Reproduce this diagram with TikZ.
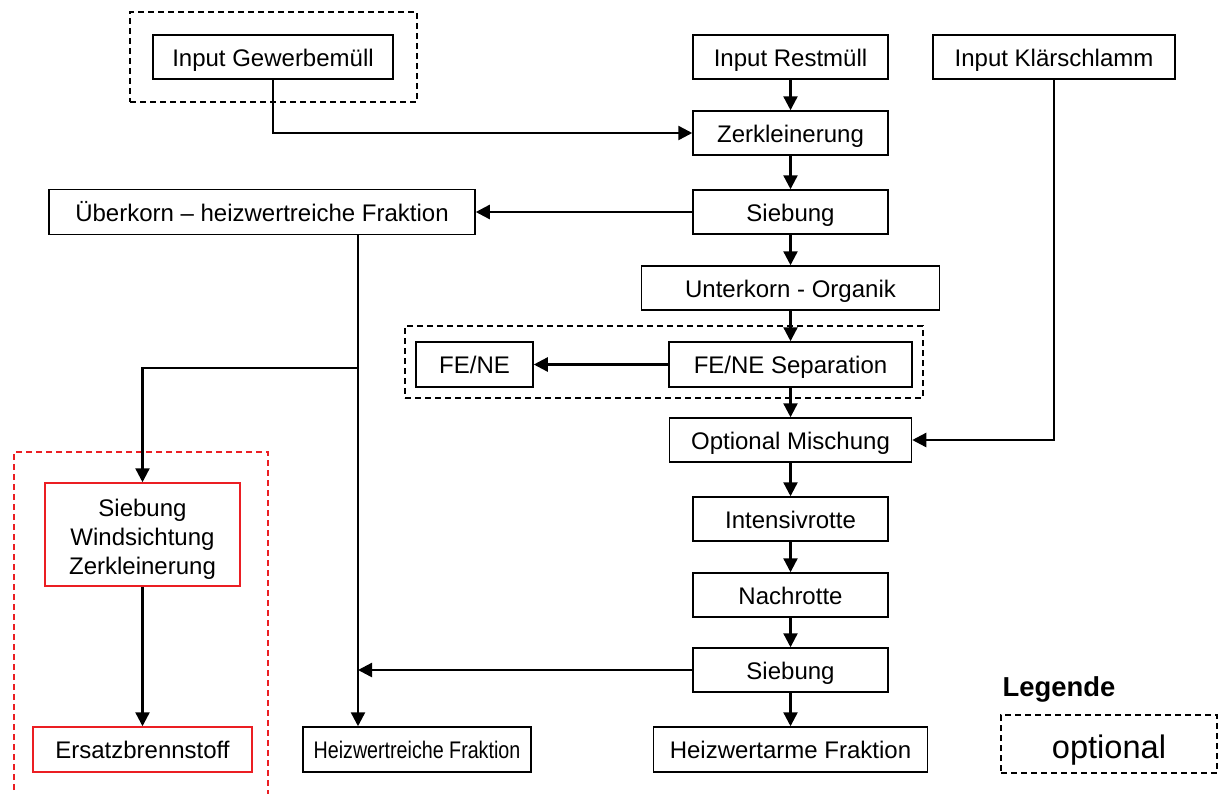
\documentclass[tikz,border=0pt]{standalone}
\usepackage{fontspec}
\setmainfont{Liberation Sans}
\usetikzlibrary{arrows.meta}
\definecolor{boxred}{RGB}{235,30,35}
\tikzset{
  box/.style={draw, line width=0.75pt, minimum height=22pt, inner sep=0pt, align=center, font=\fontsize{12}{14.5}\selectfont, text height=11.5pt, text depth=2.5pt},
  redbox/.style={box, draw=boxred},
  frame/.style={draw, line width=1pt, dash pattern=on 3pt off 2pt, inner sep=0pt},
  redframe/.style={draw=boxred, line width=1pt, dash pattern=on 3pt off 2pt},
  arr/.style={line width=1.2pt, -{Triangle[length=7pt,width=7pt]}}
}
\begin{document}
\begin{tikzpicture}[x=0.5pt,y=-0.5pt]
\useasboundingbox (0,0) rectangle (1218,793);
% optional frames
\node[frame, minimum width=143.5pt, minimum height=45pt] (fgew) at (273.5,57) {};
\node[frame, minimum width=259pt, minimum height=36pt] (ffene) at (664,362) {};
\draw[redframe] (14,800) -- (14,452) -- (268,452) -- (268,800);
% boxes
\node[box, minimum width=120pt] (gew) at (273,57) {Input Gewerbemüll};
\node[box, minimum width=97.5pt] (rest) at (790.5,57) {Input Restmüll};
\node[box, minimum width=121pt] (klaer) at (1054,57) {Input Klärschlamm};
\node[box, minimum width=97.5pt] (zerk) at (790.5,133) {Zerkleinerung};
\node[box, minimum width=97.5pt] (sieb1) at (790.5,212) {Siebung};
\node[box, minimum width=213pt, minimum height=22.5pt] (ueber) at (262,212) {Überkorn – heizwertreiche Fraktion};
\node[box, minimum width=149pt] (unter) at (790.5,288) {Unterkorn - Organik};
\node[box, minimum width=58.5pt, minimum height=22.5pt] (fene) at (474.5,364.5) {FE/NE};
\node[box, minimum width=121.5pt, minimum height=22.5pt] (fenesep) at (790.5,364.5) {FE/NE Separation};
\node[box, minimum width=121pt] (misch) at (790.5,440) {Optional Mischung};
\node[box, minimum width=97.5pt] (intens) at (790.5,519) {Intensivrotte};
\node[box, minimum width=97.5pt] (nach) at (790.5,595) {Nachrotte};
\node[box, minimum width=97.5pt] (sieb2) at (790.5,670) {Siebung};
\node[box, minimum width=114pt, minimum height=22.5pt] (reich) at (417,749.5) {\scalebox{0.82}[1]{Heizwertreiche Fraktion}};
\node[box, minimum width=137pt, minimum height=22.5pt] (arme) at (790.5,749.5) {Heizwertarme Fraktion};
\node[redbox, minimum width=97.5pt, minimum height=51.5pt, text height=42pt, text depth=2.5pt] (sws) at (142.5,534.5) {Siebung\\Windsichtung\\Zerkleinerung};
\node[redbox, minimum width=109.5pt, minimum height=22.5pt] (ebs) at (142.5,749.5) {Ersatzbrennstoff};
% legend
\node[font=\fontsize{13.7}{16}\selectfont\bfseries] (leg) at (1059,689) {Legende};
\node[frame, minimum width=108pt, minimum height=29pt, font=\fontsize{16.3}{19}\selectfont, text height=17pt, text depth=3pt] (legbox) at (1109,744) {optional};
% connectors
\coordinate (junc) at (358,368);
\draw[arr] (rest) -- (zerk);
\draw[arr] (gew.south) |- (zerk.west);
\draw[arr] (zerk) -- (sieb1);
\draw[arr] (sieb1.west) -- (ueber.east);
\draw[arr] (sieb1) -- (unter);
\draw[arr] (unter) -- (fenesep);
\draw[arr] (fenesep.west) -- (fene.east);
\draw[arr] (fenesep) -- (misch);
\draw[arr] (klaer.south) |- (misch.east);
\draw[arr] (misch) -- (intens);
\draw[arr] (intens) -- (nach);
\draw[arr] (nach) -- (sieb2);
\draw[arr] (sieb2) -- (arme);
\draw[arr] (ueber.south -| junc) -- (reich.north -| junc);
\draw[arr] (sieb2.west) -- (sieb2.west -| junc);
\draw[arr] (junc) -| (sws.north);
\draw[arr] (sws) -- (ebs);
\end{tikzpicture}
\end{document}
